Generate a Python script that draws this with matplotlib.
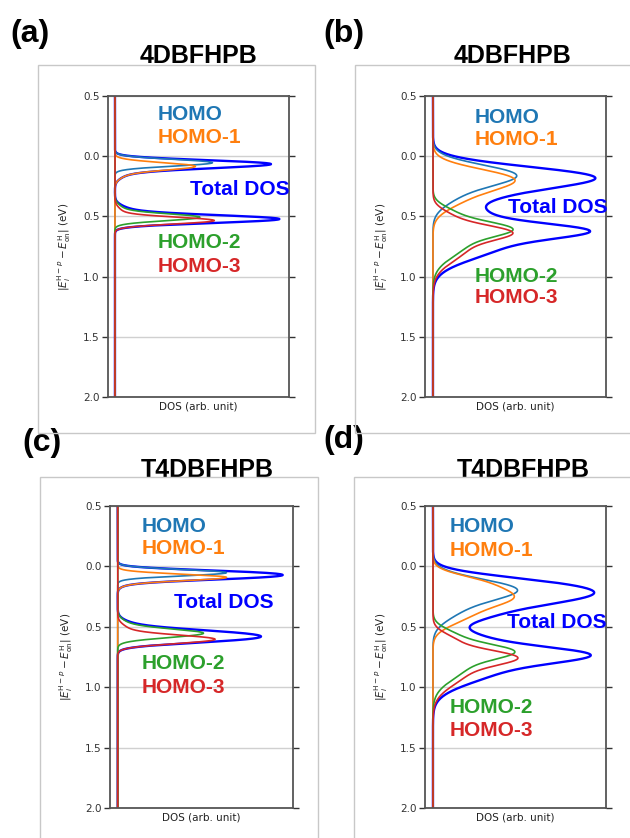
import numpy as np
import matplotlib
matplotlib.use('Agg')
import matplotlib.pyplot as plt
from matplotlib.patches import Rectangle

W, H = 630, 838

# peak parameters (centre eV, height, width) for every orbital
# panel a: 4DBFHPB, narrow
a_homo = [(0.054, 0.56, 0.028)]
a_homo1 = [(0.083, 0.44, 0.030), (0.14, 0.06, 0.04)]
a_homo2 = [(0.508, 0.47, 0.028), (0.45, 0.05, 0.04)]
a_homo3 = [(0.535, 0.56, 0.028), (0.47, 0.04, 0.04)]
# panel b: 4DBFHPB, broad
b_homo = [(0.155, 0.46, 0.085), (0.32, 0.12, 0.09)]
b_homo1 = [(0.19, 0.44, 0.085), (0.35, 0.15, 0.09)]
b_homo2 = [(0.60, 0.32, 0.06), (0.71, 0.20, 0.12), (0.47, 0.09, 0.06)]
b_homo3 = [(0.63, 0.33, 0.06), (0.75, 0.20, 0.12), (0.50, 0.08, 0.06)]
# panel c: T4DBFHPB, narrow
c_homo = [(0.052, 0.62, 0.026)]
c_homo1 = [(0.09, 0.60, 0.026), (0.13, 0.05, 0.03)]
c_homo2 = [(0.554, 0.48, 0.035), (0.48, 0.05, 0.04)]
c_homo3 = [(0.604, 0.55, 0.035), (0.52, 0.05, 0.04)]
# panel d: T4DBFHPB, broad
d_homo = [(0.19, 0.465, 0.085), (0.36, 0.13, 0.09)]
d_homo1 = [(0.25, 0.43, 0.08), (0.12, 0.18, 0.06), (0.41, 0.17, 0.08)]
d_homo2 = [(0.70, 0.33, 0.06), (0.81, 0.20, 0.12), (0.57, 0.10, 0.06)]
d_homo3 = [(0.75, 0.35, 0.06), (0.86, 0.20, 0.12), (0.61, 0.10, 0.06)]

orbital_names = ['HOMO', 'HOMO-1', 'HOMO-2', 'HOMO-3']
orbital_colors = ['#1f77b4', '#ff7f0e', '#2ca02c', '#d62728']
tick_values = [-0.5, 0.0, 0.5, 1.0, 1.5, 2.0]
tick_labels = ['0.5', '0.0', '0.5', '1.0', '1.5', '2.0']

panels = [
    dict(tag='(a)', title='4DBFHPB', orbs=[a_homo, a_homo1, a_homo2, a_homo3],
         ax=(108, 289, 96, 397), frame=(38, 315, 65, 433), x0=-0.04,
         title_xy=(198, 63), tag_xy=(10, 34),
         lab_x=0.276, tot_x=0.453, lab_y=[0.063, 0.138, 0.488, 0.568], tot_y=0.312),
    dict(tag='(b)', title='4DBFHPB', orbs=[b_homo, b_homo1, b_homo2, b_homo3],
         ax=(425, 606, 96, 397), frame=(355, 640, 65, 433), x0=-0.046,
         title_xy=(512, 63), tag_xy=(323, 34),
         lab_x=0.276, tot_x=0.459, lab_y=[0.071, 0.146, 0.601, 0.671], tot_y=0.369),
    dict(tag='(c)', title='T4DBFHPB', orbs=[c_homo, c_homo1, c_homo2, c_homo3],
         ax=(110, 293, 506, 808), frame=(40, 318, 477, 850), x0=-0.044,
         title_xy=(207, 477), tag_xy=(22, 443),
         lab_x=0.175, tot_x=0.35, lab_y=[0.069, 0.142, 0.52, 0.60], tot_y=0.321),
    dict(tag='(d)', title='T4DBFHPB', orbs=[d_homo, d_homo1, d_homo2, d_homo3],
         ax=(425, 606, 506, 808), frame=(354, 640, 477, 850), x0=-0.046,
         title_xy=(523, 477), tag_xy=(323, 440),
         lab_x=0.138, tot_x=0.453, lab_y=[0.069, 0.146, 0.666, 0.742], tot_y=0.387),
]

energy = np.linspace(-0.5, 2.0, 2001)


def dos(peaks):
    out = np.zeros_like(energy)
    for c, h, s in peaks:
        out += h * np.exp(-(energy - c) ** 2 / (2 * s ** 2))
    return out


fig = plt.figure(figsize=(W / 100, H / 100), dpi=100)

for p in panels:
    l, r, t, b = p['ax']
    ax = fig.add_axes([l / W, 1 - b / H, (r - l) / W, (b - t) / H])
    curves = [dos(o) for o in p['orbs']]
    total = np.sum(curves, axis=0)
    ax.plot(total, energy, color='blue', lw=1.7)
    for c, col in zip(curves, orbital_colors):
        ax.plot(c, energy, color=col, lw=1.2)
    ax.set_ylim(2.0, -0.5)
    ax.set_xlim(p['x0'], 1.0)
    ax.set_yticks(tick_values)
    ax.set_yticklabels(tick_labels)
    ax.set_xticks([])
    ax.grid(axis='y', color='#d0d0d0', lw=1)
    ax.tick_params(axis='y', right=True, direction='out', length=4, width=1,
                   labelsize=7.5, colors='#333333', pad=2)
    for s in ax.spines.values():
        s.set_color('#555555')
        s.set_linewidth(1.3)
    ax.set_xlabel('DOS (arb. unit)', fontsize=7.5, labelpad=3, color='#222222')
    ax.set_ylabel(r'$|E_i^{\mathrm{H}-p} - E_{\mathrm{on}}^{\mathrm{H}}|$ (eV)',
                  fontsize=7.5, labelpad=7, color='#222222')

    for name, col, yy in zip(orbital_names, orbital_colors, p['lab_y']):
        ax.text(p['lab_x'], 1 - yy, name, color=col, fontsize=15, fontweight='bold',
                family='Liberation Sans', transform=ax.transAxes, va='center', ha='left')
    ax.text(p['tot_x'], 1 - p['tot_y'], 'Total DOS', color='blue', fontsize=15,
            fontweight='bold', family='Liberation Sans', transform=ax.transAxes,
            va='center', ha='left')

    fl, fr, ft, fb = p['frame']
    fig.patches.append(Rectangle((fl / W, 1 - fb / H), (fr - fl) / W, (fb - ft) / H,
                                 transform=fig.transFigure, fill=False,
                                 edgecolor='#c8c8c8', lw=1, zorder=5))
    tx, ty = p['title_xy']
    fig.text(tx / W, 1 - ty / H, p['title'], ha='center', va='baseline',
             fontsize=18, fontweight='bold', family='Liberation Sans')
    gx, gy = p['tag_xy']
    fig.text(gx / W, 1 - gy / H, p['tag'], ha='left', va='center',
             fontsize=23, fontweight='bold', family='Liberation Sans')

fig.savefig('out.png', dpi=100)
